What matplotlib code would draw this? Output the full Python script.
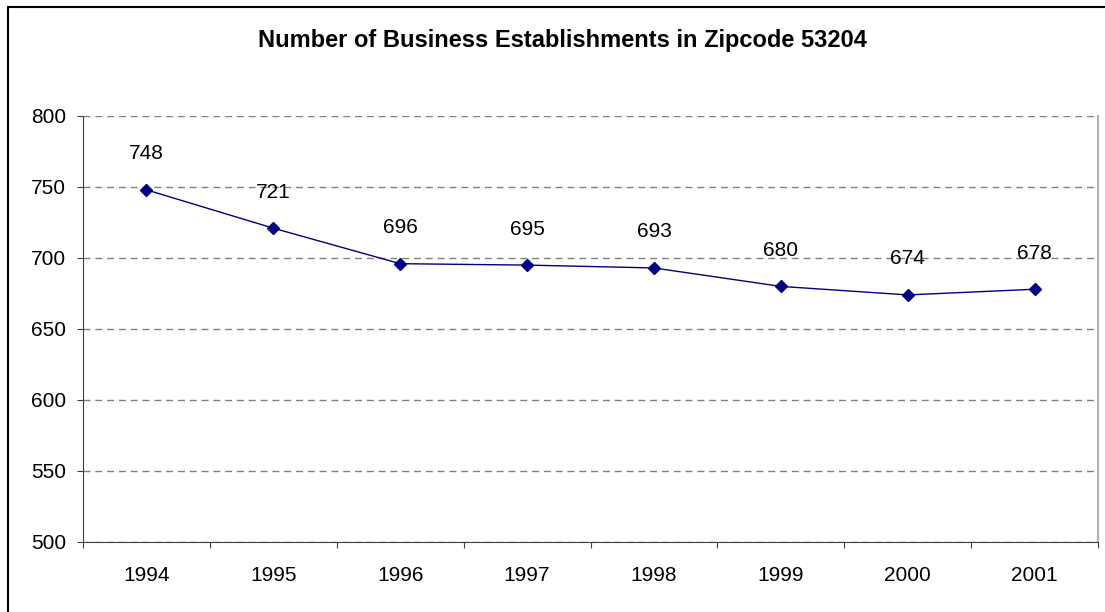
import matplotlib
matplotlib.use("Agg")
import matplotlib.pyplot as plt
from matplotlib.patches import Rectangle
import numpy as np

years = ["1994", "1995", "1996", "1997", "1998", "1999", "2000", "2001"]
counts = [748, 721, 696, 695, 693, 680, 674, 678]
title = "Number of Business Establishments in Zipcode 53204"
yticks = [500, 550, 600, 650, 700, 750, 800]

plt.rcParams['font.family'] = ['Liberation Sans', 'DejaVu Sans']

W, H = 1105, 612
fig = plt.figure(figsize=(W / 100, H / 100), dpi=100)
ax = fig.add_axes([83 / W, 1 - 542 / H, (1098 - 83) / W, (542 - 116) / H])

x = np.arange(len(years)) + 0.5
ax.plot(x, counts, color="#000080", lw=1.0, marker="D", ms=6,
        mec="#000080", mfc="#000080", zorder=3)
for xi, v in zip(x, counts):
    ax.annotate(str(v), (xi, v), xytext=(0, 22), textcoords="offset points",
                ha="center", va="baseline", fontsize=15, color="black")

ax.set_xlim(0, len(years))
ax.set_ylim(500, 800)
ax.set_yticks(yticks)
ax.set_yticklabels([str(t) for t in yticks], fontsize=15)
ax.set_xticks(np.arange(len(years) + 1))
ax.set_xticklabels([])
ax.set_xticks(x, minor=True)
ax.set_xticklabels(years, minor=True, fontsize=15)
ax.tick_params(axis="x", which="minor", length=0, pad=17)
ax.tick_params(axis="x", which="major", length=4, direction="out", color="#404040")
ax.tick_params(axis="y", length=4, direction="out", color="#404040", pad=8)

ax.yaxis.grid(True, color="#808080", linestyle=(0, (5, 3.5)), lw=1.0)
ax.set_axisbelow(True)
ax.spines["top"].set_visible(False)
ax.spines["right"].set_color("#b0b0b0")
ax.spines["right"].set_linewidth(1.5)
ax.spines["left"].set_color("#404040")
ax.spines["bottom"].set_color("#404040")

fig.text(562 / W, 1 - 47 / H, title, ha="center", va="baseline",
         fontsize=17, fontweight="bold")

# outer chart border (continues beyond right and bottom edges)
fig.patches.append(Rectangle((8 / W, -0.1), 1.2, 1 - 7 / H + 0.1,
                             transform=fig.transFigure, fill=False,
                             edgecolor="black", lw=1.5, zorder=10))

fig.savefig("out.png", dpi=100)
